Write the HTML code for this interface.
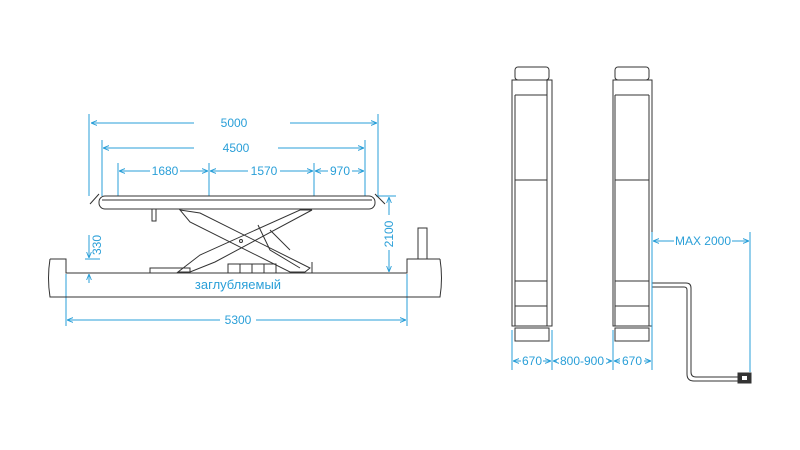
<!DOCTYPE html>
<html><head><meta charset="utf-8"><style>
body{margin:0;background:#fff}
svg{display:block}
.d{stroke:#2a9fd8;stroke-width:1;fill:none}
.t{fill:#2a9fd8;font-family:"Liberation Sans",sans-serif;font-size:12px;text-anchor:middle}
.k{stroke:#333;stroke-width:1;fill:none}
.kw{stroke:#333;stroke-width:1;fill:#fff}
</style></head><body>
<svg width="800" height="450" viewBox="0 0 800 450">
<defs><marker id="a" viewBox="0 0 10 10" refX="10" refY="5" markerWidth="6" markerHeight="6" orient="auto-start-reverse"><path d="M0,1 L10,5 L0,9" fill="none" stroke="#2a9fd8" stroke-width="1.5"/></marker></defs>
<rect width="800" height="450" fill="#fff"/>
<!-- extension lines left -->
<g class="d">
<line x1="89" y1="114" x2="89" y2="196"/><line x1="378" y1="114" x2="378" y2="196"/>
<line x1="102" y1="140" x2="102" y2="196"/><line x1="365" y1="140" x2="365" y2="196"/>
<line x1="118" y1="163" x2="118" y2="196"/><line x1="209" y1="163" x2="209" y2="196"/><line x1="314" y1="163" x2="314" y2="196"/>
<line x1="91" y1="123" x2="194" y2="123" marker-start="url(#a)"/><line x1="290" y1="123" x2="377" y2="123" marker-end="url(#a)"/>
<line x1="103" y1="148" x2="194" y2="148" marker-start="url(#a)"/><line x1="278" y1="148" x2="364" y2="148" marker-end="url(#a)"/>
<line x1="119" y1="171" x2="150" y2="171" marker-start="url(#a)"/><line x1="180" y1="171" x2="208" y2="171" marker-end="url(#a)"/>
<line x1="210" y1="171" x2="248" y2="171" marker-start="url(#a)"/><line x1="280" y1="171" x2="313" y2="171" marker-end="url(#a)"/>
<line x1="315" y1="171" x2="328" y2="171" marker-start="url(#a)"/><line x1="352" y1="171" x2="364" y2="171" marker-end="url(#a)"/>
<line x1="376" y1="196" x2="396" y2="196"/>
<line x1="389" y1="197" x2="389" y2="215" marker-start="url(#a)"/><line x1="389" y1="250" x2="389" y2="272" marker-end="url(#a)"/>
<line x1="85" y1="259" x2="100" y2="259"/>
<line x1="89" y1="235" x2="89" y2="258" marker-end="url(#a)"/><line x1="89" y1="274" x2="89" y2="283" marker-start="url(#a)"/>
<line x1="66" y1="274" x2="66" y2="326"/><line x1="407" y1="274" x2="407" y2="326"/>
<line x1="67" y1="320" x2="220" y2="320" marker-start="url(#a)"/><line x1="256" y1="320" x2="406" y2="320" marker-end="url(#a)"/>
</g>
<text class="t" x="234" y="127">5000</text>
<text class="t" x="236" y="152">4500</text>
<text class="t" x="165" y="175">1680</text>
<text class="t" x="264" y="175">1570</text>
<text class="t" x="340" y="175">970</text>
<text class="t" x="238" y="324">5300</text>
<text class="t" x="238" y="289" style="font-size:13px">заглубляемый</text>
<text class="t" transform="translate(393,234) rotate(-90)">2100</text>
<text class="t" transform="translate(101,245) rotate(-90)">330</text>
<!-- ground -->
<g class="k">
<path d="M50,259 H66 V273 H407 V259 H440"/>
<path d="M50,259 Q47,278 50,297 H440 Q443,278 440,259"/>
</g>
<!-- platform -->
<rect class="kw" x="99" y="196" width="276" height="13" rx="6"/>
<line class="k" x1="102" y1="200" x2="372" y2="200"/>
<path class="k" d="M90,204 L99,194 M375,194 L385,204"/>
<!-- scissor -->
<g class="k">
<path d="M180,210 L200,213 L310,268 L305,272 L290,272 L190,222 Z"/>
<path d="M300,210 L312,210 L215,262 L190,272 L178,272 L200,255 Z"/>
<path d="M258,225 L270,250 L300,268"/><path d="M270,230 L290,250"/>
<circle cx="241" cy="241" r="1.5"/>
<rect x="152" y="209" width="4" height="12"/>
<rect x="150" y="268" width="40" height="5"/>
<rect x="228" y="264" width="48" height="9"/>
<line x1="240" y1="264" x2="240" y2="273"/><line x1="252" y1="264" x2="252" y2="273"/><line x1="264" y1="264" x2="264" y2="273"/>
<path d="M312,273 V262 M308,273 h8"/>
<rect x="418" y="228" width="9" height="31"/>
</g>
<!-- columns -->
<g class="k">
<rect class="kw" x="515" y="67" width="34" height="13" rx="3"/>
<rect x="512" y="80" width="40" height="246"/>
<line x1="547" y1="80" x2="547" y2="326"/><line x1="515" y1="95" x2="547" y2="95"/>
<line x1="515" y1="95" x2="515" y2="326"/><line x1="515" y1="180" x2="547" y2="180"/>
<line x1="515" y1="281" x2="547" y2="281"/><line x1="515" y1="306" x2="547" y2="306"/>
<rect class="kw" x="515" y="328" width="34" height="13"/>
<rect class="kw" x="615" y="67" width="34" height="13" rx="3"/>
<rect x="613" y="80" width="39" height="246"/>
<line x1="615" y1="95" x2="649" y2="95"/><line x1="615" y1="95" x2="615" y2="326"/>
<line x1="649" y1="95" x2="649" y2="326"/>
<line x1="615" y1="180" x2="649" y2="180"/><line x1="615" y1="281" x2="649" y2="281"/><line x1="615" y1="306" x2="649" y2="306"/>
<rect class="kw" x="615" y="328" width="34" height="13"/>
<path d="M652,283 H686 Q691,283 691,288 V372 Q691,377 696,377 H738" />
<path d="M652,287 H684 Q687,287 687,290 V374 Q687,381 694,381 H738"/>
<rect x="738" y="373" width="13" height="10" fill="#333"/>
</g>
<rect x="742" y="376" width="5" height="4" fill="#fff"/>
<g class="d">
<line x1="512" y1="330" x2="512" y2="370"/><line x1="552" y1="330" x2="552" y2="370"/>
<line x1="613" y1="330" x2="613" y2="370"/><line x1="652" y1="232" x2="652" y2="370"/>
<line x1="750" y1="232" x2="750" y2="372"/>
<line x1="513" y1="361" x2="521" y2="361" marker-start="url(#a)"/><line x1="543" y1="361" x2="551" y2="361" marker-end="url(#a)"/>
<line x1="553" y1="361" x2="557" y2="361" marker-start="url(#a)"/><line x1="608" y1="361" x2="612" y2="361" marker-end="url(#a)"/>
<line x1="614" y1="361" x2="620" y2="361" marker-start="url(#a)"/><line x1="644" y1="361" x2="651" y2="361" marker-end="url(#a)"/>
<line x1="653" y1="241" x2="674" y2="241" marker-start="url(#a)"/><line x1="732" y1="241" x2="749" y2="241" marker-end="url(#a)"/>
</g>
<text class="t" x="532" y="365">670</text>
<text class="t" x="582" y="365">800-900</text>
<text class="t" x="632" y="365">670</text>
<text class="t" x="703" y="245">MAX 2000</text>
</svg>
</body></html>
